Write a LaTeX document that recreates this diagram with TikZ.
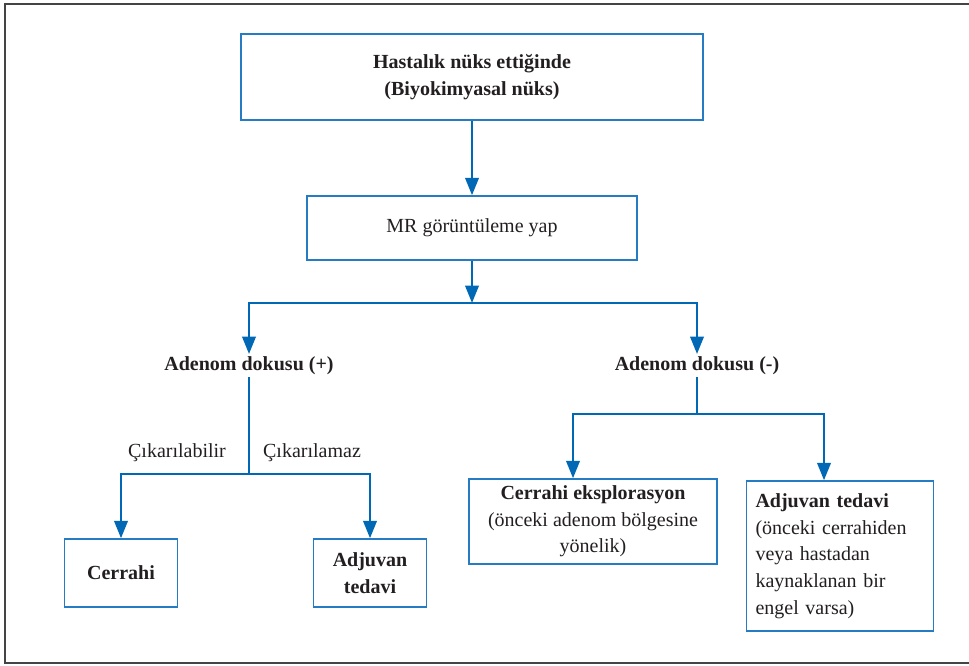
\documentclass[tikz,border=0pt]{standalone}
\usepackage{fontspec}
\setmainfont{Liberation Serif}
\usetikzlibrary{positioning}
\usetikzlibrary{arrows.meta}
\definecolor{arrowblue}{RGB}{0,104,180}
\definecolor{boxblue}{RGB}{38,124,194}
\definecolor{framegray}{RGB}{68,68,68}
\definecolor{textgray}{RGB}{35,31,32}
\newcommand{\boxfont}{\fontsize{15}{20}\selectfont}
\def\px{0.75pt}
\tikzstyle{flowbox}=[rectangle,draw=boxblue,line width=1.1pt,fill=white,inner sep=0pt,align=center,text=textgray,font=\boxfont]
\tikzstyle{headtext}=[font=\boxfont\bfseries,text=textgray,inner sep=2pt]
\tikzstyle{branchtext}=[font=\boxfont,text=textgray,inner sep=1pt]
\tikzstyle{flowedge} = [draw,line width=1.9pt,arrowblue,-{Triangle[width=10pt,length=13pt]}]
\tikzstyle{flowline} = [draw,line width=1.9pt,arrowblue,line cap=rect]

\begin{document}
\begin{tikzpicture}[x=0.75pt,y=-0.75pt]

   \useasboundingbox (0,0) rectangle (969,665);
   \draw[framegray,line width=1.5pt] (985,4) -- (5,4) -- (5,663) -- (985,663);

%layer 1
   \node[flowbox,minimum width=462*\px,minimum height=86*\px,font=\boxfont\bfseries] (top) at (472,77) {Hastalık nüks ettiğinde\\(Biyokimyasal nüks)};
   \node[flowbox,minimum width=330*\px,minimum height=64*\px] (mr) at (472,228) {MR görüntüleme yap};

%layer 2
   \foreach \pos/\name/\label in {{(249,366)/adp/Adenom dokusu (+)}, {(697,366)/adn/Adenom dokusu (-)}}
      \node[headtext] (\name) at \pos {\label};

%layer 3
   \node[flowbox,minimum width=113*\px,minimum height=68*\px,font=\boxfont\bfseries] (cer) at (121,573) {Cerrahi};
   \node[flowbox,minimum width=113*\px,minimum height=68*\px,font=\boxfont\bfseries] (adj1) at (370,573) {Adjuvan\\tedavi};
   \node[flowbox,minimum width=248*\px,minimum height=85*\px] (cex) at (593,521.5) {\textbf{Cerrahi eksplorasyon}\\(önceki adenom bölgesine\\yönelik)};
   \node[flowbox,align=left,text width=169*\px,inner xsep=9*\px,minimum height=150*\px] (adj2) at (840,556) {\textbf{Adjuvan tedavi}\\(önceki cerrahiden\\veya hastadan\\kaynaklanan bir\\engel varsa)};

   %Label
   \node[branchtext] (cikl) at (177,453) {Çıkarılabilir};
   \node[branchtext] (cikr) at (312,453) {Çıkarılamaz};

   \coordinate (fm) at (472,303);
   \coordinate (fl) at (249,303);
   \coordinate (fr) at (697,303);
   \coordinate (lm) at (249,474);
   \coordinate (ll) at (121,474);
   \coordinate (lr) at (370,474);
   \coordinate (rm) at (697,414);
   \coordinate (rl) at (573,414);
   \coordinate (rr) at (824,414);

% Edges
   \path[flowedge] (top) -- (mr);
   \path[flowedge] (mr) -- (fm);
   \path[flowline] (fl) -- (fr);
   \foreach \source/ \dest in {fl/adp, fr/adn, ll/cer, lr/adj1}
      \path[flowedge] (\source) -- (\dest);
   \path[flowline] (adp) -- (lm);
   \path[flowline] (ll) -- (lr);
   \path[flowline] (adn) -- (rm);
   \path[flowline] (rl) -- (rr);
   \path[flowedge] (rl) -- (rl |- cex.north);
   \path[flowedge] (rr) -- (rr |- adj2.north);

\end{tikzpicture}
\end{document}
